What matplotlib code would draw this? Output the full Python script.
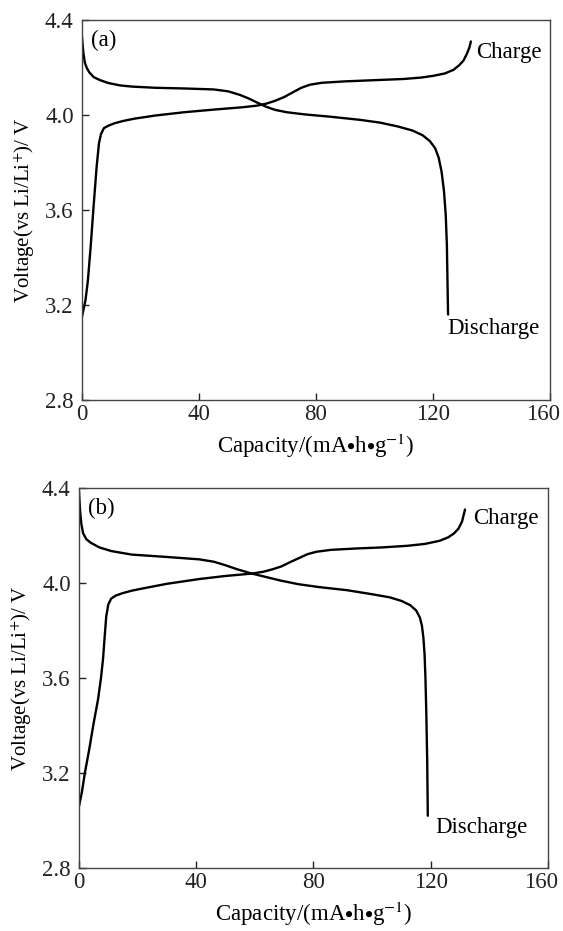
import numpy as np
import matplotlib
matplotlib.use("Agg")
import matplotlib.pyplot as plt
import matplotlib.transforms as mtransforms

plt.rcParams['font.family'] = ['Liberation Serif', 'DejaVu Serif']
plt.rcParams['mathtext.fontset'] = 'stix'

# (a) charge / discharge curves
cap_chg_a = [0, 0.5, 1.2, 2, 3, 4, 5, 5.8, 6.5, 7.5, 9, 11, 14, 18, 25, 35, 45, 55, 60, 63, 66, 69, 72, 75, 78, 82,
             90, 100, 110, 116, 120, 124, 127, 129, 130.5, 131.7, 132.5, 133]
v_chg_a = [3.15, 3.18, 3.22, 3.3, 3.45, 3.62, 3.78, 3.88, 3.92, 3.945, 3.955, 3.965, 3.975, 3.985, 3.998, 4.012,
           4.023, 4.033, 4.04, 4.048, 4.06, 4.075, 4.095, 4.115, 4.128, 4.136, 4.142, 4.147, 4.152, 4.158, 4.165,
           4.175, 4.19, 4.21, 4.23, 4.26, 4.285, 4.31]
cap_dis_a = [0, 0.2, 0.5, 1, 1.6, 2.5, 4, 6, 9, 13, 17, 25, 35, 45, 50, 54, 57, 60, 63, 66, 70, 76, 85, 95, 102,
             108, 113, 116.5, 119, 120.8, 122, 123, 123.8, 124.4, 124.8, 125, 125.2]
v_dis_a = [4.33, 4.3, 4.26, 4.22, 4.2, 4.18, 4.16, 4.148, 4.135, 4.125, 4.12, 4.115, 4.112, 4.108, 4.1, 4.085,
           4.07, 4.052, 4.035, 4.022, 4.012, 4.003, 3.993, 3.98, 3.968, 3.952, 3.935, 3.915, 3.89, 3.86, 3.82,
           3.76, 3.68, 3.58, 3.45, 3.3, 3.16]

# (b)
cap_chg_b = [0, 1, 2, 3.5, 5, 6.5, 7.5, 8.2, 8.8, 9.3, 10, 11, 12.5, 15, 18, 22, 30, 41, 50, 59, 63, 66, 69, 72,
             75, 78, 81, 86, 95, 103, 112, 118, 123, 126, 128, 129.5, 130.7, 131.7]
v_chg_b = [3.06, 3.12, 3.2, 3.3, 3.41, 3.51, 3.6, 3.68, 3.78, 3.86, 3.91, 3.935, 3.947, 3.958, 3.968, 3.978,
           3.997, 4.017, 4.03, 4.04, 4.048, 4.058, 4.07, 4.088, 4.105, 4.122, 4.132, 4.14, 4.146, 4.15, 4.157,
           4.165, 4.178, 4.193, 4.21, 4.23, 4.26, 4.31]
cap_dis_b = [0, 0.15, 0.4, 0.8, 1.4, 2.5, 4, 7, 11, 18, 30, 41, 46, 50, 54, 59, 64, 69, 75, 82, 91.5, 100, 106,
             110, 113, 115, 116.3, 117, 117.5, 117.9, 118.2, 118.5, 118.8, 119]
v_dis_b = [4.39, 4.35, 4.3, 4.25, 4.21, 4.185, 4.17, 4.15, 4.135, 4.12, 4.11, 4.1, 4.09, 4.075, 4.058, 4.04,
           4.025, 4.01, 3.995, 3.983, 3.97, 3.953, 3.94, 3.925, 3.907, 3.885, 3.855, 3.82, 3.77, 3.7, 3.6, 3.45,
           3.25, 3.02]

x_ticks = [0, 40, 80, 120, 160]
y_ticks = [2.8, 3.2, 3.6, 4.0, 4.4]

fig = plt.figure(figsize=(5.63, 9.31), dpi=100)
ax1 = fig.add_axes([0.1456, 0.5704, 0.831, 0.408])
ax2 = fig.add_axes([0.1403, 0.0677, 0.833, 0.408])

panels = [
    (ax1, cap_chg_a, v_chg_a, cap_dis_a, v_dis_a, '(a)', (134.7, 4.265), (124.8, 3.10)),
    (ax2, cap_chg_b, v_chg_b, cap_dis_b, v_dis_b, '(b)', (134.5, 4.27), (121.5, 2.97)),
]

fs = 16.5
for ax, cc, vc, cd, vd, tag, chg_pos, dis_pos in panels:
    ax.plot(cc, vc, color='black', lw=1.7, solid_capstyle='round', solid_joinstyle='round')
    ax.plot(cd, vd, color='black', lw=1.7, solid_capstyle='round', solid_joinstyle='round')
    ax.set_xlim(0, 160)
    ax.set_ylim(2.8, 4.4)
    ax.set_xticks(x_ticks)
    ax.set_yticks(y_ticks)
    ax.set_yticklabels(['%.1f' % t for t in y_ticks])
    ax.tick_params(direction='in', length=5, width=1, labelsize=fs, colors='#222222')
    ax.tick_params(axis='x', pad=3)
    ax.tick_params(axis='y', pad=6)
    # last x label sits a little to the left, as in the figure
    lab = ax.get_xticklabels()[-1]
    lab.set_transform(lab.get_transform() + mtransforms.ScaledTranslation(-7 / 100, 0, fig.dpi_scale_trans))
    for s in ax.spines.values():
        s.set_linewidth(1.0)
        s.set_color('#444444')
    ax.set_xlabel('Capacity/(mA$\\bullet$h$\\bullet$g$^{-1}$)', fontsize=fs, labelpad=5)
    ax.set_ylabel('Voltage(vs Li/Li$^{+}$)/ V', fontsize=15, labelpad=6)
    ax.text(0.02, 0.975, tag, transform=ax.transAxes, fontsize=fs, va='top', ha='left')
    ax.text(chg_pos[0], chg_pos[1], 'Charge', fontsize=fs, va='center', ha='left')
    ax.text(dis_pos[0], dis_pos[1], 'Discharge', fontsize=fs, va='center', ha='left')

fig.savefig('out.png', dpi=100)
